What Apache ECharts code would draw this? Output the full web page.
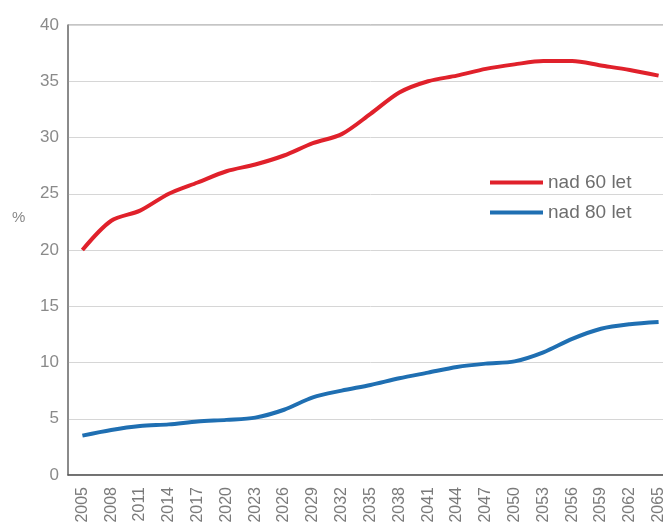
<!DOCTYPE html>
<html>
<head>
<meta charset="utf-8">
<script src="https://cdn.jsdelivr.net/npm/echarts@6/dist/echarts.min.js"></script>
<style>html,body{margin:0;padding:0;background:#fff;overflow:hidden}#c{width:673px;height:530px}</style>
</head>
<body>
<div id="c"></div>
<script>
var years = ['2005','2008','2011','2014','2017','2020','2023','2026','2029','2032','2035','2038','2041','2044','2047','2050','2053','2056','2059','2062','2065'];
var over60 = [20, 22.6, 23.5, 25, 26, 27, 27.6, 28.4, 29.5, 30.3, 32.1, 34, 35, 35.5, 36.1, 36.5, 36.8, 36.8, 36.4, 36, 35.5];
var over80 = [3.5, 4.0, 4.35, 4.5, 4.75, 4.9, 5.1, 5.8, 6.9, 7.5, 8.0, 8.6, 9.1, 9.6, 9.9, 10.1, 10.9, 12.1, 13.0, 13.4, 13.6];
var yTicks = {min: 0, max: 40, interval: 5};

var chart = echarts.init(document.getElementById('c'));
chart.setOption({
  animation: false,
  backgroundColor: '#fff',
  grid: {left: 68, top: 25, right: 0, bottom: 55, show: true, borderColor: '#8a8a8a', borderWidth: 1},
  graphic: [{type: 'text', left: 12, top: 210, style: {text: '%', fontSize: 15, fill: '#888', fontFamily: 'Liberation Sans'}}],
  legend: {
    left: 485, top: 168, orient: 'vertical', itemGap: 11,
    itemWidth: 53, itemHeight: 4, icon: 'rect',
    textStyle: {fontSize: 19, color: '#6e6e6e', fontFamily: 'Liberation Sans'},
    data: ['nad 60 let', 'nad 80 let']
  },
  xAxis: {
    type: 'category', data: years, boundaryGap: true,
    axisLine: {lineStyle: {color: '#555', width: 1.5}},
    axisTick: {inside: true, length: 8, lineStyle: {color: '#555'}},
    axisLabel: {rotate: 90, fontSize: 16, color: '#7a7a7a', margin: 12, fontFamily: 'Liberation Sans'}
  },
  yAxis: {
    type: 'value', min: yTicks.min, max: yTicks.max, interval: yTicks.interval,
    axisLine: {show: true, lineStyle: {color: '#777', width: 1.5}},
    axisTick: {show: false},
    axisLabel: {fontSize: 17, color: '#8a8a8a', margin: 9, fontFamily: 'Liberation Sans'},
    splitLine: {lineStyle: {color: '#d6d6d6', width: 1}}
  },
  series: [
    {name: 'nad 60 let', type: 'line', data: over60, smooth: 0.3, symbol: 'none',
     lineStyle: {width: 4, color: '#e0212b'}, itemStyle: {color: '#e0212b'}},
    {name: 'nad 80 let', type: 'line', data: over80, smooth: 0.3, symbol: 'none',
     lineStyle: {width: 4, color: '#1f6fb2'}, itemStyle: {color: '#1f6fb2'}}
  ]
});
</script>
</body>
</html>
